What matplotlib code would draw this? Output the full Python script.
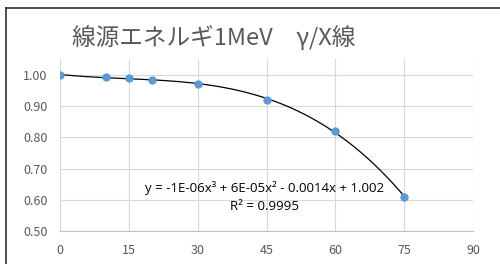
import numpy as np
import matplotlib.pyplot as plt
from matplotlib.lines import Line2D

plt.rcParams['font.family'] = ['Noto Sans CJK JP', 'DejaVu Sans']

# data
angles = [0, 10, 15, 20, 30, 45, 60, 75]
ratio = [1.00, 0.993, 0.991, 0.984, 0.971, 0.921, 0.820, 0.610]
x_ticks = [0, 15, 30, 45, 60, 75, 90]
y_ticks = [0.50, 0.60, 0.70, 0.80, 0.90, 1.00]
title = "線源エネルギ1MeV\u3000γ/X線"
eq_text = "y = -1E-06x³ + 6E-05x² - 0.0014x + 1.002"
r2_text = "R² = 0.9995"

fig = plt.figure(figsize=(5, 2.64), dpi=100)
ax = fig.add_axes([60/500, 1 - 231/264, (473 - 60)/500, (231 - 59.4)/264])

ax.set_xlim(0, 90)
ax.set_ylim(0.5, 1.05)
ax.set_xticks(x_ticks)
ax.set_yticks(y_ticks)
ax.set_yticklabels([f"{v:.2f}" for v in y_ticks])
ax.grid(True, color="#d9d9d9", linewidth=0.8)
ax.set_axisbelow(True)
for s in ["top", "right", "left"]:
    ax.spines[s].set_visible(False)
ax.spines["bottom"].set_color("#bfbfbf")
ax.tick_params(axis="both", length=0, labelsize=9, colors="#595959", pad=9)

# polynomial trendline (3rd order)
coef = np.polyfit(angles, ratio, 3)
xs = np.linspace(0, 75, 200)
ax.plot(xs, np.polyval(coef, xs), color="black", linewidth=0.9, zorder=2)

ax.plot(angles, ratio, "o", color="#5b9bd5", markersize=6, markeredgewidth=0, zorder=3)

ax.text(44.5, 0.637, eq_text, ha="center", va="center", fontsize=9.5,
        family=["Open Sans", "DejaVu Sans"])
ax.text(44.5, 0.580, r2_text, ha="center", va="center", fontsize=9.5,
        family=["Open Sans", "DejaVu Sans"])

fig.text(214/500, 1 - 37/264, title, ha="center", va="center",
         fontsize=17, color="#595959")

# chart frame
fig.add_artist(Line2D([6/500, 6/500], [0, 1 - 8/264], color="#303030", linewidth=1.2))
fig.add_artist(Line2D([6/500, 1], [1 - 8/264, 1 - 8/264], color="#303030", linewidth=1.2))

fig.savefig("out.png", dpi=100)
